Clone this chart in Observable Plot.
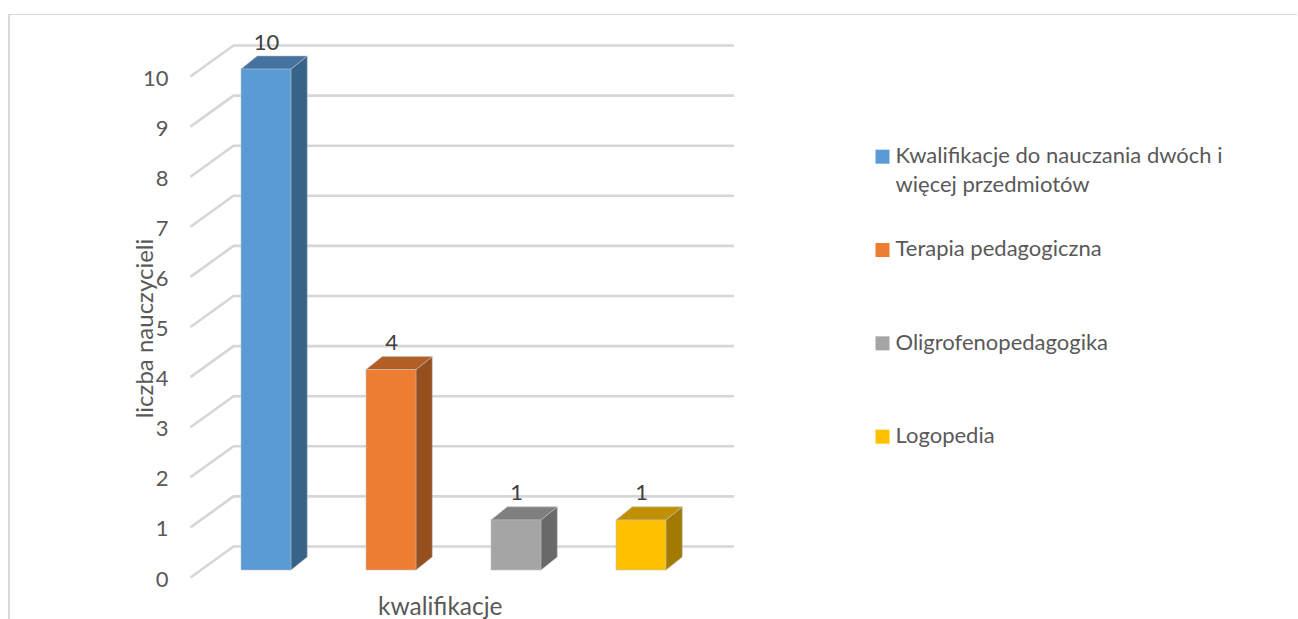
<!DOCTYPE html>
<html lang="pl">
<head>
<meta charset="utf-8">
<script src="https://cdn.jsdelivr.net/npm/d3@7"></script>
<script src="https://cdn.jsdelivr.net/npm/@observablehq/plot@0.6"></script>
<style>
html,body{margin:0;padding:0;background:#fff;overflow:hidden}
#wrap{position:relative;width:1298px;height:619px}
#frame{position:absolute;left:8px;top:14px;right:1px;bottom:0;border-top:1px solid #d9d9d9;border-left:2px solid #d9d9d9}
#wrap svg{position:absolute;left:0;top:0;display:block;background:transparent}
</style>
</head>
<body>
<div id="wrap"><div id="frame"></div></div>
<script>
const categories = ["Kwalifikacje do nauczania dwóch i\nwięcej przedmiotów", "Terapia pedagogiczna", "Oligrofenopedagogika", "Logopedia"];
const values = [10, 4, 1, 1];
const frontColors = ["#5b9bd5", "#ed7d31", "#a5a5a5", "#ffc000"];
const sideColors = ["#376388", "#96501f", "#696969", "#a37a00"];
const topColors = ["#44739f", "#b25e25", "#7f7f7f", "#c09000"];
const gridLevels = [0, 1, 2, 3, 4, 5, 6, 7, 8, 9, 10];
const xTitle = "kwalifikacje";
const yTitle = "liczba nauczycieli";

// Layout constants, in scale units
const FONT = "Lato, sans-serif";
const halfBar = 0.2, depthX = 0.13, depthY = 0.26;
const wallX = -0.264, gridFrontX = -0.608, gridEndX = 3.744;
const wallRise = 0.479, frontDrop = -0.14;

const bars = categories.map((name, i) => ({
  name, i, v: values[i], front: frontColors[i], side: sideColors[i], top: topColors[i]
}));
const sideFaces = bars.flatMap(b => [0, 1].map(t => ({
  name: b.name, fill: b.side,
  x: b.i + halfBar + t * depthX,
  y1: t * depthY,
  y2: b.v + t * depthY
})));
const topFaces = bars.flatMap(b => [0, 1].map(t => ({
  name: b.name, fill: b.top,
  y: b.v + t * depthY,
  x1: b.i - halfBar + t * depthX,
  x2: b.i + halfBar + t * depthX
})));
const edge = {stroke: "#b9c2ca", strokeWidth: 1, strokeOpacity: 0.55};

const chart = Plot.plot({
  width: 1298,
  height: 619,
  marginLeft: 171,
  marginTop: 0, marginRight: 0, marginBottom: 0,
  style: {background: "transparent", fontFamily: FONT},
  x: {domain: [0, 3], range: [266, 641], axis: null},
  y: {domain: [0, 10], range: [570, 69], axis: null},
  marks: [
    // back wall and side wall gridlines
    Plot.ruleY(gridLevels, {y: d => d + wallRise, x1: wallX, x2: gridEndX, stroke: "#d6d6d6", strokeWidth: 2.6}),
    Plot.link(gridLevels, {x1: gridFrontX, y1: d => d + frontDrop, x2: wallX, y2: d => d + wallRise, stroke: "#d6d6d6", strokeWidth: 2.6}),
    // y tick labels
    Plot.axisY(gridLevels, {anchor: "left", tickSize: 0, tickPadding: 3, label: null, dy: 9, fontSize: 22, fill: "#595959", tickFormat: d => d}),
    // bars
    Plot.areaY(sideFaces, {x: "x", y1: "y1", y2: "y2", z: "name", fill: "fill", ...edge}),
    Plot.areaX(topFaces, {y: "y", x1: "x1", x2: "x2", z: "name", fill: "fill", ...edge}),
    Plot.rect(bars, {x1: d => d.i - halfBar, x2: d => d.i + halfBar, y1: 0, y2: "v", fill: "front", ...edge}),
    // value labels
    Plot.text(bars, {x: "i", y: "v", text: d => String(d.v), dy: -27, fontSize: 22, fill: "#404040"}),
    // axis titles
    Plot.text([xTitle], {x: 1.39, y: -0.74, text: d => d, fontSize: 24.5, fill: "#595959"}),
    Plot.text([yTitle], {x: -0.97, y: 4.83, text: d => d, rotate: -90, fontSize: 24, fill: "#595959"}),
    // legend
    Plot.dot(bars, {x: 4.928, y: d => 8.26 - d.i * 1.863, symbol: "square", r: 7.9, fill: "front"}),
    Plot.text(bars, {x: 5.032, y: d => 8.26 - d.i * 1.863, text: "name", textAnchor: "start", lineAnchor: "top", lineHeight: 1.3, dy: -14, fontSize: 22, fill: "#595959"})
  ]
});
document.getElementById("wrap").appendChild(chart);
</script>
</body>
</html>
